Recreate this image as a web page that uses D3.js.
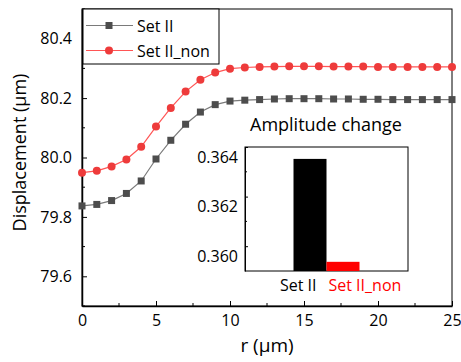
<!DOCTYPE html>
<html lang="en">
<head>
  <meta charset="UTF-8">
  <title>Displacement vs r</title>
  <style>
    body { margin: 0; background: #fff; }
    svg  { font-family: "Open Sans", Lato, sans-serif; }
    .axis path, .axis line { stroke: #000; }
    .axis text { font-size: 16px; fill: #000; font-family: "Open Sans", sans-serif; }
  </style>
</head>
<body>
  <svg id="chart" width="461" height="362"></svg>

  <script src="https://d3js.org/d3.v7.min.js"></script>
  <script>
    /* ---------- data ---------- */
    const rValues = d3.range(0, 26);   // 0,1,...,25 µm
    const setII = [79.837, 79.842, 79.855, 79.879, 79.921, 79.995, 80.058, 80.112, 80.153, 80.178,
                   80.190, 80.193, 80.195, 80.197, 80.198, 80.198, 80.198, 80.197, 80.197, 80.196,
                   80.196, 80.195, 80.195, 80.195, 80.195, 80.195];
    const setIInon = [79.949, 79.955, 79.970, 79.993, 80.036, 80.104, 80.167, 80.222, 80.262, 80.286,
                      80.299, 80.303, 80.305, 80.306, 80.307, 80.307, 80.307, 80.306, 80.306, 80.306,
                      80.305, 80.305, 80.305, 80.305, 80.305, 80.305];
    const xTicks = [0, 5, 10, 15, 20, 25];
    const yTicks = [79.6, 79.8, 80.0, 80.2, 80.4];

    const insetCats = ['Set II', 'Set II_non'];
    const insetVals = [0.36352, 0.35937];
    const insetTicks = [0.360, 0.362, 0.364];

    /* ---------- layout ---------- */
    const plot = { left: 82, right: 452, top: 9, bottom: 306 };
    const inset = { left: 245, right: 408, top: 147, bottom: 271 };

    const svg = d3.select('#chart');

    const x = d3.scaleLinear().domain([0, 25]).range([plot.left, plot.right]);
    const y = d3.scaleLinear().domain([79.5, 80.5]).range([plot.bottom, plot.top]);

    // frame (top / right)
    svg.append('rect')
       .attr('x', plot.left).attr('y', plot.top)
       .attr('width', plot.right - plot.left).attr('height', plot.bottom - plot.top)
       .attr('fill', 'none').attr('stroke', '#000').attr('stroke-width', 1);

    // minor ticks (inward)
    const xMinor = d3.range(2.5, 25, 5);
    const yMinor = d3.range(79.5, 80.55, 0.2);
    svg.append('g').selectAll('line')
       .data(xMinor).enter().append('line')
       .attr('x1', d => x(d)).attr('x2', d => x(d))
       .attr('y1', plot.bottom).attr('y2', plot.bottom - 3)
       .attr('stroke', '#000');
    svg.append('g').selectAll('line')
       .data(yMinor).enter().append('line')
       .attr('x1', plot.left).attr('x2', plot.left + 3)
       .attr('y1', d => y(d)).attr('y2', d => y(d))
       .attr('stroke', '#000');

    // axes with inward ticks
    const xAxis = svg.append('g').attr('class', 'axis')
       .attr('transform', `translate(0,${plot.bottom})`)
       .call(d3.axisBottom(x).tickValues(xTicks).tickSize(-5).tickSizeOuter(0).tickPadding(9));
    xAxis.select('.domain').attr('stroke-width', 1.5);

    const yAxis = svg.append('g').attr('class', 'axis')
       .attr('transform', `translate(${plot.left},0)`)
       .call(d3.axisLeft(y).tickValues(yTicks).tickFormat(d3.format('.1f'))
             .tickSize(-5).tickSizeOuter(0).tickPadding(10));
    yAxis.select('.domain').attr('stroke-width', 1.5);

    // axis titles
    svg.append('text')
       .attr('x', (plot.left + plot.right) / 2).attr('y', 352)
       .attr('text-anchor', 'middle').attr('font-size', 19)
       .text('r (μm)');
    svg.append('text')
       .attr('transform', `translate(26,${(plot.top + plot.bottom) / 2 - 5}) rotate(-90)`)
       .attr('text-anchor', 'middle').attr('font-size', 18)
       .text('Displacement (μm)');

    /* ---------- series ---------- */
    const series = [
      { name: 'Set II', vals: setII, line: '#7a7a7a', mark: '#4d4d4d', shape: 'square' },
      { name: 'Set II_non', vals: setIInon, line: '#ff5555', mark: '#ee3b3b', shape: 'circle' }
    ];

    const line = d3.line().x(d => x(d[0])).y(d => y(d[1]));

    function drawMarker(g, s, cx, cy) {
      if (s.shape === 'square') {
        g.append('rect').attr('x', cx - 3.5).attr('y', cy - 3.5)
         .attr('width', 7).attr('height', 7).attr('fill', s.mark);
      } else {
        g.append('circle').attr('cx', cx).attr('cy', cy).attr('r', 4)
         .attr('fill', s.mark);
      }
    }

    series.forEach(s => {
      const pts = rValues.map((r, i) => [r, s.vals[i]]);
      svg.append('path').datum(pts)
         .attr('fill', 'none').attr('stroke', s.line).attr('stroke-width', 1.2)
         .attr('d', line);
      const g = svg.append('g');
      pts.forEach(p => drawMarker(g, s, x(p[0]), y(p[1])));
    });

    /* ---------- legend ---------- */
    const leg = svg.append('g');
    leg.append('rect').attr('x', 83).attr('y', 9).attr('width', 136).attr('height', 55)
       .attr('fill', '#fff').attr('stroke', '#000');
    series.forEach((s, i) => {
      const ly = 25.5 + i * 25;
      leg.append('line').attr('x1', 86).attr('x2', 133).attr('y1', ly).attr('y2', ly)
         .attr('stroke', s.line).attr('stroke-width', 1.2);
      drawMarker(leg, s, 109, ly);
      leg.append('text').attr('x', 137).attr('y', ly + 6)
         .attr('font-size', 16).text(s.name);
    });

    /* ---------- inset bar chart ---------- */
    const xb = d3.scaleBand().domain(insetCats)
                 .range([inset.left, inset.right]).paddingInner(0).paddingOuter(1.47);
    const yb = d3.scaleLinear().domain([0.359, 0.364]).range([inset.bottom, inset.top]);

    svg.append('text')
       .attr('x', 326).attr('y', 131).attr('text-anchor', 'middle')
       .attr('font-size', 18).text('Amplitude change');

    svg.append('rect')
       .attr('x', inset.left).attr('y', inset.top)
       .attr('width', inset.right - inset.left).attr('height', inset.bottom - inset.top)
       .attr('fill', '#fff').attr('stroke', '#000').attr('stroke-width', 1);

    const barColors = ['#000000', '#ff0000'];
    svg.append('g').selectAll('rect')
       .data(insetCats).enter().append('rect')
       .attr('x', d => xb(d)).attr('width', xb.bandwidth())
       .attr('y', (d, i) => yb(insetVals[i]))
       .attr('height', (d, i) => inset.bottom - yb(insetVals[i]))
       .attr('fill', (d, i) => barColors[i]);

    // inset minor ticks
    svg.append('g').selectAll('line')
       .data([0.361, 0.363]).enter().append('line')
       .attr('x1', inset.left).attr('x2', inset.left + 2)
       .attr('y1', d => yb(d)).attr('y2', d => yb(d)).attr('stroke', '#000');

    const iyAxis = svg.append('g').attr('class', 'axis')
       .attr('transform', `translate(${inset.left},0)`)
       .call(d3.axisLeft(yb).tickValues(insetTicks).tickFormat(d3.format('.3f'))
             .tickSize(-3).tickSizeOuter(0).tickPadding(7));
    iyAxis.selectAll('text').attr('dy', '0.95em');

    // category labels
    const mid = xb('Set II_non');
    svg.append('text').attr('x', mid - 10).attr('y', 291).attr('text-anchor', 'end')
       .attr('font-size', 16).attr('fill', '#000').text(insetCats[0]);
    svg.append('text').attr('x', mid + 2).attr('y', 291).attr('text-anchor', 'start')
       .attr('font-size', 16).attr('fill', '#ff0000').text(insetCats[1]);
  </script>
</body>
</html>
